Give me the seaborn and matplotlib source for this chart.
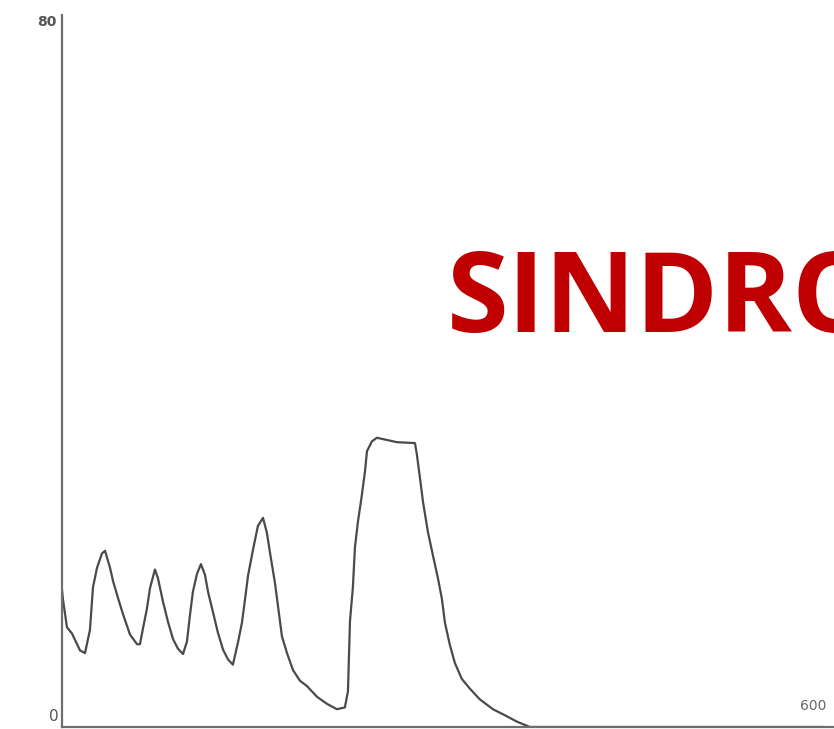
import matplotlib
matplotlib.use("Agg")
import matplotlib.pyplot as plt
import seaborn as sns
import pandas as pd

# Trace of the recorded curve (x in axis units 0-600, y in axis units 0-80)
x_vals = [0.0, 0.8, 3.9, 7.9, 14.2, 18.1, 22.0, 24.4, 27.6, 31.5, 33.9, 37.8, 40.2,
          44.1, 48.0, 53.5, 59.1, 61.4, 63.8, 66.9, 69.3, 73.2, 75.6, 79.5, 83.5,
          87.4, 91.3, 95.3, 98.4, 100.8, 103.1, 106.3, 109.4, 112.6, 115.0, 118.9,
          122.8, 126.8, 130.7, 134.6, 138.6, 141.7, 144.1, 146.5, 150.4, 154.3,
          158.3, 161.4, 163.8, 167.7, 170.1, 173.2, 177.2, 181.9, 187.4, 192.9,
          200.8, 208.7, 216.5, 222.8, 225.2, 226.8, 229.1, 230.7, 233.1, 236.2,
          238.6, 240.2, 244.1, 248.0, 263.8, 278.0, 279.5, 281.9, 284.3, 288.2,
          292.1, 296.1, 299.2, 301.6, 305.5, 309.4, 314.9, 321.3, 329.1, 339.4,
          350.4, 358.3, 368.5, 600.0]
y_vals = [15.4, 14.3, 11.2, 10.5, 8.6, 8.3, 10.9, 15.7, 17.9, 19.5, 19.8, 17.9, 16.4,
          14.5, 12.7, 10.4, 9.3, 9.3, 11.1, 13.3, 15.6, 17.7, 16.7, 14.1, 11.8,
          9.9, 8.8, 8.2, 9.6, 12.6, 15.2, 17.2, 18.3, 17.1, 15.2, 12.9,
          10.6, 8.7, 7.6, 7.0, 9.5, 11.7, 14.3, 17.0, 19.9, 22.6,
          23.5, 21.8, 19.6, 16.2, 13.6, 10.2, 8.3, 6.4, 5.2, 4.6,
          3.4, 2.6, 2.0, 2.2, 4.0, 11.9, 15.7, 20.2, 23.1, 26.1,
          28.7, 31.0, 32.1, 32.5, 32.0, 31.9, 30.6, 28.0, 25.3, 21.9,
          19.3, 16.7, 14.4, 11.7, 9.2, 7.2, 5.4, 4.3, 3.1, 2.0,
          1.2, 0.6, 0.0, 0.0]

y_ticks = [0, 10, 20, 30, 40, 50, 60, 70, 80]
x_ticks = [100, 200, 300, 400, 500]
y_top_label = "80"
origin_label = "0"
x_end_label = "600"
title_text = "SINDROME"

df = pd.DataFrame({"x": x_vals, "y": y_vals})

sns.set_style("white")
fig = plt.figure(figsize=(8.34, 7.29), dpi=100)
ax = fig.add_axes([62 / 834, 2 / 729, 1 - 62 / 834, 712 / 729])

sns.lineplot(data=df, x="x", y="y", ax=ax, color="#4a4a4a", linewidth=1.6,
             sort=False, estimator=None)

ax.set_xlim(0, 608)
ax.set_ylim(0, 80)
ax.set_xlabel("")
ax.set_ylabel("")

for side in ("top", "right"):
    ax.spines[side].set_visible(False)
for side in ("left", "bottom"):
    ax.spines[side].set_color("#6e6e6e")
    ax.spines[side].set_linewidth(1.6)

ax.set_yticks(y_ticks)
ax.set_yticklabels([""] * len(y_ticks))
ax.set_xticks(x_ticks)
ax.set_xticklabels([""] * len(x_ticks))
ax.tick_params(axis="y", direction="in", length=7, width=1.4, color="#555555")
ax.tick_params(axis="x", direction="in", length=5, width=1.4, color="#555555")

ax.text(-4, 80, y_top_label, ha="right", va="top", fontsize=10,
        color="#555555", fontweight="bold", clip_on=False)
ax.text(-3, 0.3, origin_label, ha="right", va="bottom", fontsize=11,
        color="#555555", clip_on=False)
ax.text(602, 1.6, x_end_label, ha="right", va="bottom", fontsize=10,
        color="#666666", clip_on=False)

fig.text(447 / 834, (729 - 332) / 729, title_text, ha="left", va="baseline",
         fontsize=80.6, fontweight="bold", family="Open Sans", color="#C00000")

fig.savefig("out.png", dpi=100)
